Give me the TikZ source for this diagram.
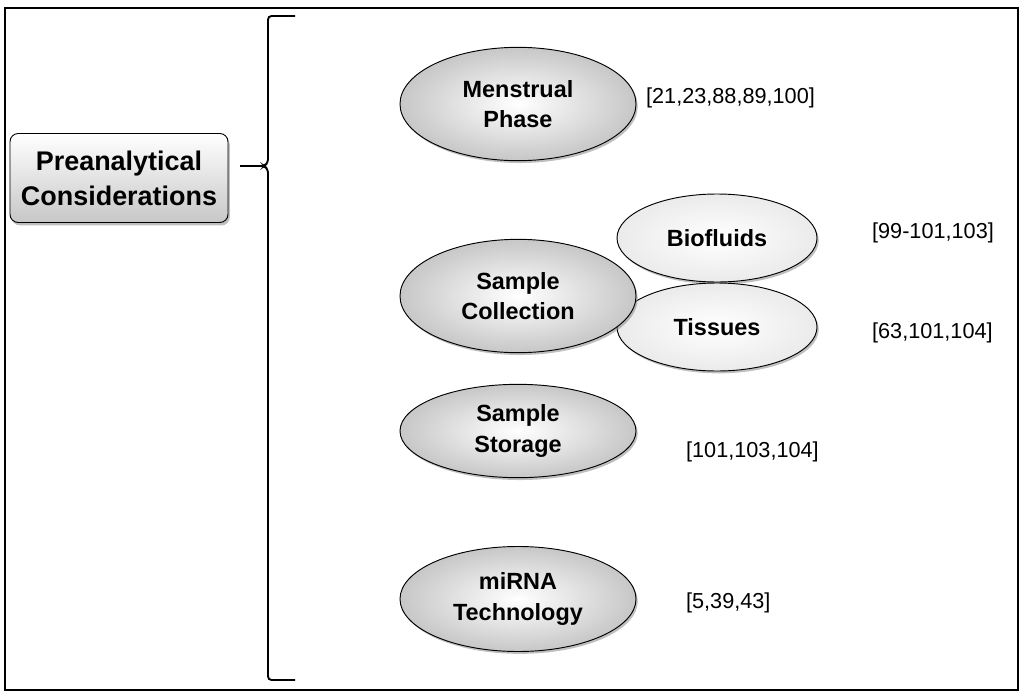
\documentclass[tikz,border=0pt]{standalone}
\usepackage{fontspec}
\setmainfont{Liberation Sans}
\usetikzlibrary{shadows, positioning, shapes.geometric}

\begin{document}
\begin{tikzpicture}[
  x=0.03cm, y=-0.03cm,
  every node/.style={font=\fontsize{18.5}{22}\selectfont},
  topic/.style={ellipse, draw=black, thick, minimum width=7.08cm, minimum height=3.4cm, inner color=white, outer color=black!22, drop shadow={shadow xshift=1.5pt, shadow yshift=-2pt, opacity=.5}, align=center, font=\fontsize{20}{26}\selectfont\bfseries},
  sub/.style={ellipse, draw=black, thick, minimum width=6cm, minimum height=2.64cm, inner color=white, outer color=black!8, drop shadow={shadow xshift=1.5pt, shadow yshift=-2pt, opacity=.5}, align=center, font=\fontsize{20}{26}\selectfont\bfseries},
  ref/.style={anchor=west},
]
\useasboundingbox (0,0) rectangle (1024,698);

% Frame
\draw[line width=1.6pt] (5,8) rectangle (1018,690);

% Main box
\node[rounded corners=7pt, draw=black, thick, minimum width=6.54cm, minimum height=2.67cm, top color=white, bottom color=black!22, drop shadow={shadow xshift=1.5pt, shadow yshift=-2.5pt, opacity=.5}, align=center, font=\fontsize{23}{30}\selectfont\bfseries] (main) at (119,178) {Preanalytical\\Considerations};

% Brace
\draw[line width=1.6pt, rounded corners=3pt] (295,16) -- (268,16) -- (268,163) -- (264,166) -- (240,166);
\draw[line width=1.6pt, rounded corners=3pt] (240,166) -- (264,166) -- (268,169) -- (268,680) -- (295,680);

% Ellipses
\node[sub] (bio) at (717,238) {Biofluids};
\node[sub] (tis) at (717,327) {Tissues};
\node[topic] (mens) at (518,104) {Menstrual\\Phase};
\node[topic] (coll) at (518,296) {Sample\\Collection};
\node[topic, minimum height=2.8cm] (stor) at (518,431) {Sample\\Storage};
\node[topic, minimum height=3.15cm] (mirna) at (518,599) {miRNA\\Technology};

% References
\node[ref] (rmens) at (642,98) {[21,23,88,89,100]};
\node[ref] (rbio) at (868,233) {[99-101,103]};
\node[ref] (rtis) at (868,333) {[63,101,104]};
\node[ref] (rstor) at (682,452) {[101,103,104]};
\node[ref] (rmirna) at (682,603) {[5,39,43]};
\end{tikzpicture}
\end{document}
